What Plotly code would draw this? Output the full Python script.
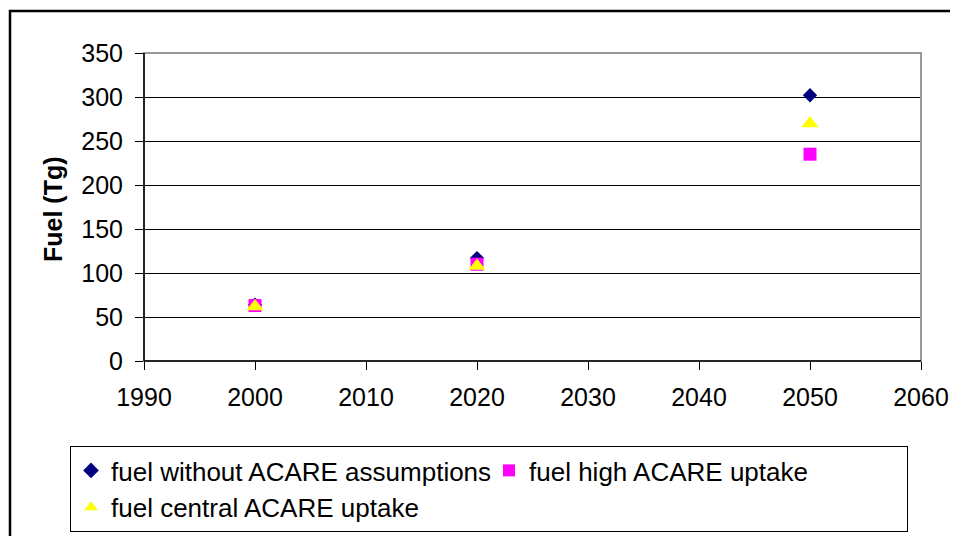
import plotly.graph_objects as go

years = [2000, 2020, 2050]
fuel_without = [64, 117, 302]
fuel_high = [63, 110, 235]
fuel_central = [62, 108, 270]

names = ["fuel without ACARE assumptions", "fuel high ACARE uptake", "fuel central ACARE uptake"]
x_ticks = [1990, 2000, 2010, 2020, 2030, 2040, 2050, 2060]
y_ticks = [0, 50, 100, 150, 200, 250, 300, 350]

# page body has an 8px default margin; work in screen pixels and subtract it
OFF = 8
W, H = 958 - OFF, 536 - OFF
L, R, T, B = 144 - OFF, 921 - OFF, 53 - OFF, 361 - OFF
pw, ph = R - L, B - T

def px_x(v):
    return (v - OFF - L) / pw

def px_y(v):
    return (B - (v - OFF)) / ph

FONT = "Arial, Liberation Sans, sans-serif"

fig = go.Figure()
fig.add_trace(go.Scatter(x=years, y=fuel_without, mode="markers", name=names[0],
                         marker=dict(symbol="diamond", size=11, color="#000080")))
fig.add_trace(go.Scatter(x=years, y=fuel_high, mode="markers", name=names[1],
                         marker=dict(symbol="square", size=13, color="#FF00FF")))
fig.add_trace(go.Scatter(x=years, y=fuel_central, mode="markers", name=names[2],
                         marker=dict(symbol="triangle-up", size=15, color="#FFFF00")))

fig.update_layout(
    width=W, height=H,
    margin=dict(l=L, r=W - R, t=T, b=H - B, pad=0, autoexpand=False),
    paper_bgcolor="white", plot_bgcolor="white",
    font=dict(family=FONT, size=25, color="black"),
    showlegend=True,
    legend=dict(
        orientation="h", x=px_x(70), y=px_y(446), xanchor="left", yanchor="top",
        bordercolor="black", borderwidth=1, bgcolor="white",
        font=dict(size=26), entrywidth=373, entrywidthmode="pixels",
        itemsizing="constant",
    ),
    xaxis=dict(range=[1990, 2060], tickvals=x_ticks, ticktext=[str(v) for v in x_ticks],
               showgrid=False, zeroline=False, showline=True, linecolor="black", linewidth=1,
               ticks="outside", ticklen=8, tickcolor="black", tickfont=dict(size=25),
               ticklabelstandoff=6),
    yaxis=dict(range=[0, 350], tickvals=y_ticks, ticktext=[str(v) for v in y_ticks],
               showgrid=True, gridcolor="black", gridwidth=1, zeroline=False,
               showline=True, linecolor="black", linewidth=1,
               ticks="outside", ticklen=8, tickcolor="black", tickfont=dict(size=25),
               ticklabelstandoff=7),
    annotations=[dict(text="<b>Fuel (Tg)</b>", textangle=-90, x=px_x(53), y=px_y(209),
                      xref="paper", yref="paper", xanchor="center", yanchor="middle",
                      showarrow=False, font=dict(size=25, family=FONT))],
    shapes=[
        dict(type="rect", xref="paper", yref="paper", x0=0, x1=1, y0=0, y1=1,
             line=dict(color="#999999", width=2), layer="above"),
        dict(type="line", xref="paper", yref="paper", x0=0, x1=0, y0=0, y1=1,
             line=dict(color="black", width=1.5), layer="above"),
        dict(type="line", xref="paper", yref="paper", x0=0, x1=1, y0=0, y1=0,
             line=dict(color="black", width=1.5), layer="above"),
        dict(type="rect", xref="paper", yref="paper", x0=px_x(10), x1=px_x(975),
             y0=px_y(560), y1=px_y(11), line=dict(color="black", width=2.5), layer="below"),
    ],
)

fig.write_html("out.html")
